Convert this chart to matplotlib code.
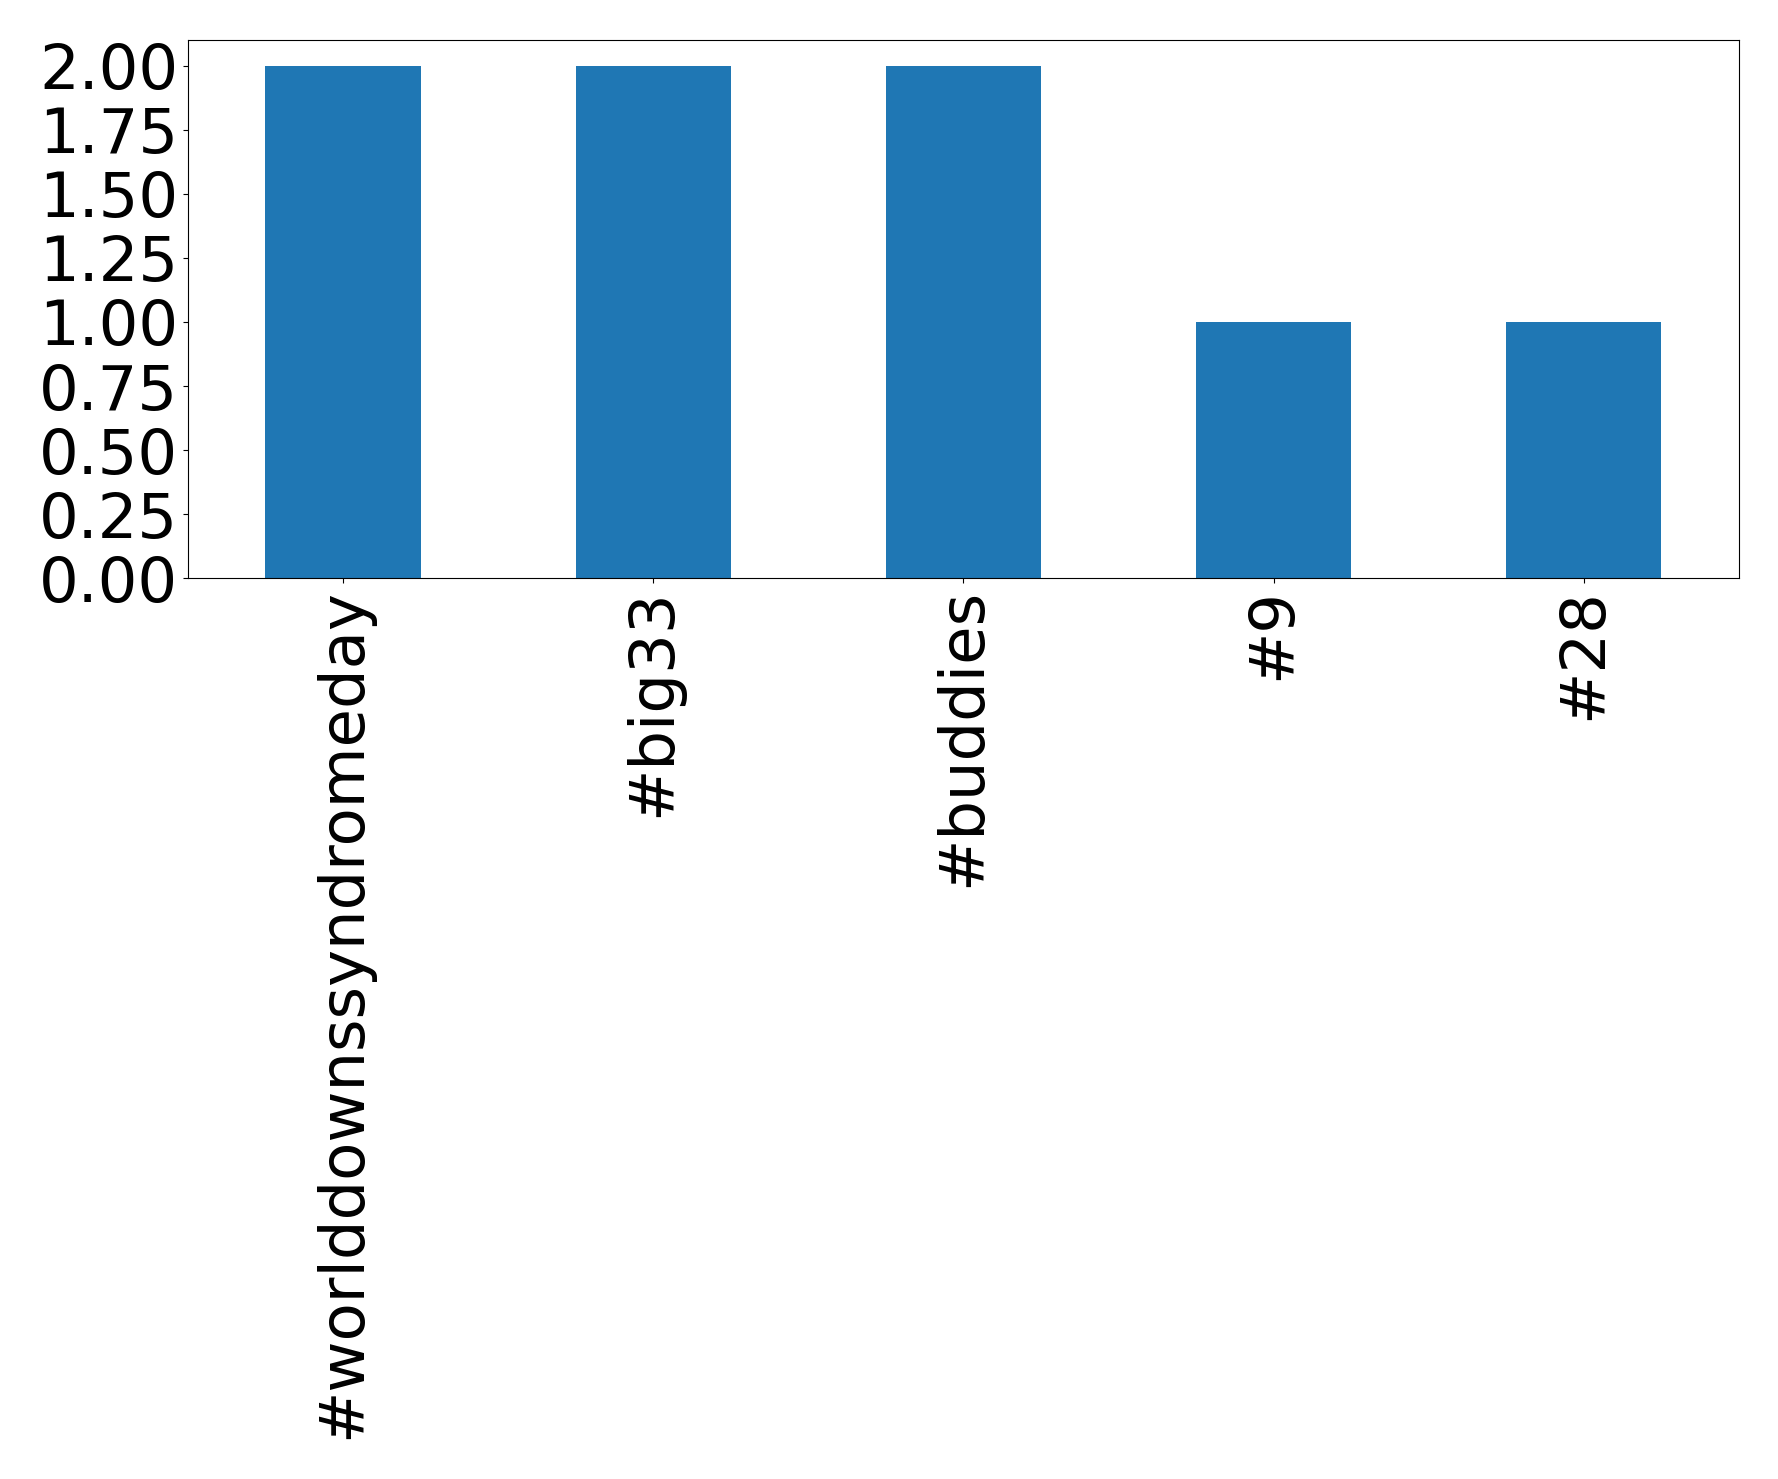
import matplotlib
matplotlib.use("Agg")
import matplotlib.pyplot as plt

# ハッシュタグごとの出現回数
tags = ["#worlddownssyndromeday", "#big33", "#buddies", "#9", "#28"]
counts = [2, 2, 2, 1, 1]

fig = plt.figure(figsize=(17.78, 14.79), dpi=100)
ax = fig.add_axes([0.1057, 0.609, 0.978 - 0.1057, 0.973 - 0.609])
x = range(len(tags))
ax.bar(x, counts, width=0.5, color="#1f77b4")
ax.set_xlim(-0.5, len(tags) - 0.5)
ax.set_xticks(list(x))
ax.set_xticklabels(tags, rotation=90)
ax.set_yticks([0, 0.25, 0.5, 0.75, 1.0, 1.25, 1.5, 1.75, 2.0])
ax.set_yticklabels([f"{v:.2f}" for v in ax.get_yticks()])
ax.tick_params(labelsize=45)
fig.savefig("out.png", dpi=100)
